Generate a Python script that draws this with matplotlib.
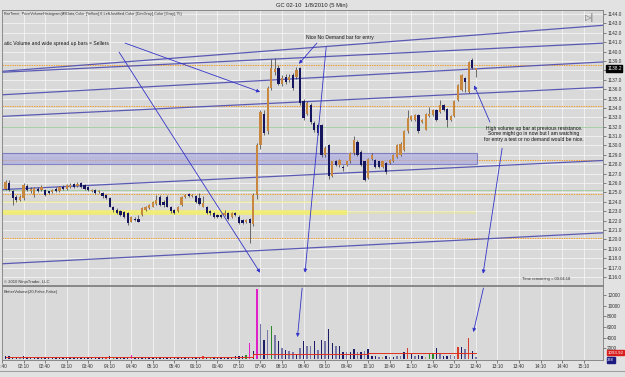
import numpy as np
import matplotlib
matplotlib.use("Agg")
import matplotlib.pyplot as plt

plt.rcParams['font.family'] = ['Liberation Sans', 'DejaVu Sans']

# 5 min bars, index 0 = 01:40
bar_idx = list(range(1, 133))

opens = [1125.4, 1126.0, 1125.1, 1124.5, 1124.2, 1124.4, 1125.7, 1125.1, 1124.7, 1125.4,
         1125.3, 1125.3, 1125.1, 1125.0, 1125.4, 1125.1, 1125.6, 1125.4, 1125.6, 1125.9,
         1125.7, 1126.0, 1125.8, 1125.6, 1125.1, 1125.3, 1125.0, 1124.9, 1124.7, 1124.4,
         1123.5, 1123.1, 1123.0, 1122.9, 1122.8, 1121.9, 1122.2, 1122.2, 1122.6, 1123.1,
         1123.3, 1123.5, 1123.8, 1124.5, 1124.0, 1124.5, 1123.5, 1123.1, 1123.0, 1123.7,
         1124.5, 1124.8, 1124.6, 1124.6, 1124.4, 1123.5, 1123.5, 1123.0, 1122.8, 1122.6,
         1122.6, 1122.6, 1122.8, 1122.4, 1122.8, 1122.4, 1122.1, 1121.9, 1122.2, 1121.6,
         1124.7, 1130.0, 1133.4, 1131.5, 1136.1, 1137.8, 1138.2, 1136.6, 1137.3, 1137.0,
         1137.5, 1137.3, 1138.2, 1134.7, 1133.4, 1134.3, 1132.4, 1132.2, 1132.2, 1129.0,
         1130.0, 1126.8, 1128.3, 1127.9, 1127.7, 1127.9, 1128.3, 1129.2, 1130.4, 1129.3,
         1128.3, 1126.5, 1128.6, 1128.5, 1128.3, 1127.7, 1128.1, 1128.1, 1128.3, 1128.8,
         1129.0, 1129.5, 1131.5, 1132.7, 1132.7, 1133.2, 1132.5, 1131.7, 1133.1, 1133.2,
         1133.8, 1133.6, 1134.3, 1133.9, 1132.7, 1133.1, 1134.8, 1135.9, 1137.2, 1135.7,
         1139.1, 1138.0]
highs = [1126.3, 1126.3, 1125.3, 1124.7, 1124.7, 1126.0, 1125.9, 1125.6, 1125.6, 1125.6,
         1125.8, 1125.4, 1125.2, 1125.4, 1125.6, 1125.7, 1125.8, 1125.9, 1126.0, 1126.0,
         1126.1, 1126.1, 1125.9, 1125.7, 1125.4, 1125.4, 1125.3, 1125.0, 1124.8, 1124.5,
         1123.6, 1123.3, 1123.1, 1123.0, 1122.9, 1122.5, 1122.4, 1122.6, 1123.4, 1123.6,
         1123.8, 1124.1, 1124.7, 1124.7, 1124.2, 1124.7, 1123.6, 1123.2, 1123.6, 1124.6,
         1124.8, 1124.9, 1124.8, 1124.7, 1124.9, 1124.6, 1123.6, 1123.1, 1122.9, 1122.7,
         1122.7, 1123.1, 1122.9, 1122.9, 1122.9, 1122.6, 1122.2, 1122.2, 1122.3, 1124.9,
         1130.3, 1133.8, 1133.8, 1136.3, 1139.2, 1139.3, 1138.6, 1137.5, 1137.6, 1137.6,
         1137.7, 1138.4, 1138.4, 1134.9, 1134.7, 1134.5, 1132.6, 1132.4, 1132.3, 1129.9,
         1130.2, 1128.4, 1128.5, 1128.6, 1127.9, 1128.4, 1129.3, 1131.0, 1130.6, 1129.5,
         1128.4, 1128.7, 1129.2, 1128.6, 1128.4, 1128.4, 1128.2, 1128.6, 1129.1, 1130.2,
         1130.4, 1131.6, 1133.8, 1133.2, 1133.4, 1133.4, 1132.8, 1133.5, 1134.1, 1133.9,
         1133.9, 1134.8, 1134.4, 1134.0, 1133.2, 1134.8, 1136.5, 1137.6, 1137.3, 1139.0,
         1139.3, 1138.3]
lows = [1125.3, 1125.1, 1123.7, 1124.0, 1124.1, 1124.2, 1125.1, 1124.9, 1124.5, 1125.0,
        1125.1, 1124.6, 1124.8, 1124.9, 1125.0, 1125.0, 1125.3, 1125.3, 1125.5, 1125.5,
        1125.6, 1125.5, 1125.3, 1125.2, 1125.0, 1124.8, 1124.9, 1124.4, 1124.3, 1123.4,
        1122.9, 1122.7, 1122.5, 1122.3, 1121.5, 1121.8, 1122.0, 1121.8, 1122.5, 1123.0,
        1123.2, 1123.4, 1123.7, 1123.6, 1123.5, 1123.4, 1122.8, 1122.7, 1122.9, 1123.6,
        1124.4, 1124.5, 1124.5, 1123.9, 1123.7, 1123.4, 1122.7, 1122.6, 1122.3, 1122.3,
        1122.3, 1122.5, 1122.1, 1122.3, 1122.5, 1121.6, 1121.6, 1121.7, 1119.6, 1121.4,
        1124.3, 1129.6, 1131.1, 1131.2, 1135.9, 1137.5, 1136.4, 1136.3, 1136.6, 1136.8,
        1135.9, 1137.1, 1134.3, 1132.7, 1133.2, 1132.3, 1131.4, 1131.1, 1128.8, 1128.8,
        1126.4, 1126.6, 1127.8, 1127.7, 1127.3, 1127.8, 1128.1, 1129.0, 1128.9, 1127.8,
        1126.2, 1126.4, 1128.5, 1127.6, 1127.6, 1127.6, 1127.0, 1128.0, 1128.2, 1128.7,
        1128.9, 1129.4, 1131.3, 1132.6, 1132.6, 1131.3, 1132.4, 1131.6, 1133.0, 1133.1,
        1132.6, 1133.5, 1133.7, 1132.0, 1132.6, 1133.0, 1134.7, 1135.8, 1135.7, 1135.6,
        1138.1, 1137.3]
closes = [1126.1, 1125.3, 1124.4, 1124.2, 1124.5, 1125.8, 1125.3, 1125.4, 1125.5, 1125.2,
          1125.6, 1124.7, 1124.9, 1125.3, 1125.1, 1125.6, 1125.4, 1125.8, 1125.8, 1125.6,
          1125.9, 1125.6, 1125.4, 1125.3, 1125.3, 1124.9, 1125.2, 1124.6, 1124.4, 1123.5,
          1123.1, 1122.8, 1122.6, 1122.4, 1121.7, 1122.4, 1122.1, 1121.9, 1123.3, 1123.5,
          1123.7, 1124.0, 1124.2, 1123.7, 1123.7, 1123.5, 1123.0, 1122.8, 1123.5, 1124.5,
          1124.7, 1124.6, 1124.7, 1124.0, 1123.8, 1123.9, 1122.8, 1122.8, 1122.4, 1122.4,
          1122.4, 1122.8, 1122.2, 1122.8, 1122.6, 1121.7, 1121.7, 1122.1, 1121.7, 1124.7,
          1130.0, 1133.6, 1131.3, 1136.1, 1138.2, 1138.1, 1136.6, 1137.2, 1136.8, 1137.3,
          1136.1, 1138.0, 1134.5, 1132.9, 1134.5, 1132.5, 1131.6, 1131.3, 1129.0, 1129.7,
          1126.8, 1128.3, 1127.9, 1128.5, 1127.6, 1128.3, 1129.2, 1130.6, 1129.0, 1127.9,
          1126.3, 1128.6, 1129.0, 1127.7, 1127.7, 1128.3, 1127.2, 1128.5, 1129.0, 1130.1,
          1130.2, 1131.5, 1132.9, 1133.1, 1133.2, 1131.5, 1132.7, 1133.4, 1133.4, 1133.8,
          1132.7, 1134.3, 1133.8, 1132.7, 1133.1, 1134.7, 1136.4, 1137.5, 1136.8, 1138.9,
          1138.2, 1138.2]

volumes = [450, 500, 400, 350, 300, 450, 350, 300, 350, 300,
           300, 350, 300, 300, 300, 300, 300, 350, 300, 300,
           300, 350, 300, 350, 300, 350, 300, 350, 400, 450,
           400, 350, 350, 400, 400, 800, 350, 350, 400, 350,
           300, 350, 350, 350, 300, 350, 300, 350, 300, 350,
           300, 300, 300, 350, 300, 450, 350, 400, 350, 350,
           350, 400, 350, 350, 450, 450, 600, 700, 2900, 1500,
           13100, 6600, 3550, 5400, 6250, 4500, 3400, 2000, 1650, 1450,
           1250, 1000, 2000, 3400, 2400, 2400, 3300, 1650, 3600, 3300,
           5600, 3000, 2400, 2400, 1300, 1300, 1300, 1800, 1300, 1300,
           1500, 1800, 500, 450, 400, 400, 600, 400, 400, 450,
           500, 1300, 2000, 900, 600, 650, 450, 400, 900, 1100,
           2100, 950, 600, 600, 650, 500, 2300, 2200, 1900, 3850,
           1500, 300]
# n navy, s slate, r red, g green, m magenta, t tan
vol_codes = ("nnnnsnnnnn" "nnnnnnnnnn" "nnnnnnnnrn" "gnnnnmnnnn" "nnnnnnnnnn"
             "nnnnnrngnn" "nnnnnnngmn" "msnsgsnsns" "snsnssnsns" "nnsnnsnnsn"
             "snnnstnsns" "snrnsnntgg" "nsnnssrnsr" "ns")
avg_x = [1, 70, 70, 102, 102, 132]
avg_v = [280, 280, 850, 850, 1050, 1050]

tick_idx = list(range(0, 163, 6))
tick_labels = ["01:40", "02:10", "02:40", "03:10", "03:40", "04:10", "04:40", "05:10",
               "05:40", "06:10", "06:40", "07:10", "07:40", "08:10", "08:40", "09:10",
               "09:40", "10:10", "10:40", "11:10", "11:40", "12:10", "12:40", "13:10",
               "13:40", "14:10", "14:40", "15:10"]

orange_levels = [1138.6, 1134.2, 1128.5, 1124.8, 1120.1]
green_levels = [1132.0, 1125.3]
# trend lines: price at left edge / right edge
chan_left = [1137.9, 1137.8, 1135.4, 1133.1, 1125.3, 1117.4]
chan_right = [1142.8, 1140.9, 1138.9, 1136.2, 1128.4, 1120.7]
zone_lo, zone_hi, zone_end = 1128.0, 1129.25, 132.2
hist_price = [1124.0, 1122.87, 1122.87]
hist_len = [88, 96, 132]
hist_alpha = [0.35, 0.7, 0.3]
# arrows: (x0, p0, x1, p1)
price_arrows = [(34.3, 1140.9, 71.9, 1135.7), (32.6, 1139.95, 71.9, 1116.45),
                (87.7, 1140.9, 82.7, 1138.7), (90.3, 1140.5, 84.4, 1116.45),
                (135.9, 1132.5, 131.5, 1136.4), (139.3, 1129.7, 134.0, 1116.35)]
vol_arrows = [(83.6, 13350, 82.3, 4100), (134.1, 13350, 131.3, 5050)]

UP, DOWN = "#c8873f", "#16165e"
VCOL = {"n": "#1c1c66", "s": "#7878a8", "r": "#d83a2e", "g": "#2a8a2a",
        "m": "#e020c8", "t": "#c8a060"}
BLUE = "#5a5ab4"
ARROW = "#3434c8"
BG = "#d9d9d9"

fig = plt.figure(figsize=(6.25, 3.77), dpi=100, facecolor="#e2e2e2")
W, H = 625.0, 377.0
ax1 = fig.add_axes([2 / W, 1 - 285 / H, 601 / W, 275 / H], facecolor=BG)
ax2 = fig.add_axes([2 / W, 1 - 360 / H, 601 / W, 74 / H], facecolor=BG, sharex=ax1)
xmax = 167.4
ax1.set_xlim(0, xmax)
ax1.set_ylim(1115.14, 1144.43)
ax2.set_ylim(-226, 13736)

for ax in (ax1, ax2):
    for s in ax.spines.values():
        s.set_color("#7a7a7a")
        s.set_linewidth(0.6)
    ax.set_xticks(tick_idx)
    ax.grid(True, axis="x", color="#f4f4f4", lw=0.6, zorder=0)
    ax.set_axisbelow(True)

price_ticks = np.arange(1116, 1145)
ax1.set_yticks(price_ticks)
# the last-price box covers the 1138.0 label
ax1.set_yticklabels(["" if v == 1138 else "%.1f" % v for v in price_ticks])
ax1.grid(True, axis="y", color="#f4f4f4", lw=0.6, zorder=0)
ax1.yaxis.tick_right()
ax1.tick_params(axis="y", labelsize=3.4, length=2, width=0.4, pad=1, colors="#333333")
ax1.tick_params(axis="x", labelbottom=False, length=0)

ax2.set_yticks([2000, 4000, 6000, 8000, 10000, 12000])
ax2.yaxis.tick_right()
ax2.tick_params(axis="y", labelsize=3.4, length=2, width=0.4, pad=1, colors="#333333")
ax2.set_xticklabels(tick_labels)
ax2.tick_params(axis="x", labelsize=3.4, length=2, width=0.4, pad=1, colors="#333333")

# overlays
for p in orange_levels:
    ax1.axhline(p, color="#f0a030", lw=0.7, ls=(0, (1.5, 1)), zorder=1)
for p in green_levels:
    ax1.axhline(p, color="#9ccc9c", lw=0.6, zorder=1)
hbars = ax1.barh(hist_price, hist_len, left=0, height=[0.25, 0.5, 0.4],
                 color="#f5f060", zorder=1)
for bar, a in zip(hbars, hist_alpha):
    bar.set_alpha(a)
ax1.fill_between([0, zone_end], zone_lo, zone_hi, color="#a8a8e0", alpha=0.65,
                 edgecolor=BLUE, lw=0.8, zorder=2)
for pl, pr in zip(chan_left, chan_right):
    ax1.plot([0, xmax], [pl, pr], color=BLUE, lw=0.9, zorder=2)

# candles
o = np.array(opens)
c = np.array(closes)
up = c >= o
ax1.vlines(bar_idx, lows, highs, color="#3a3a3a", lw=0.5, zorder=3)
ax1.bar(bar_idx, np.maximum(np.abs(c - o), 0.07), bottom=np.minimum(o, c), width=0.62,
        color=np.where(up, UP, DOWN), edgecolor="none", zorder=4)

for x0, p0, x1, p1 in price_arrows:
    ax1.annotate("", xy=(x1, p1), xytext=(x0, p0),
                 arrowprops=dict(arrowstyle="-|>", color=ARROW, lw=0.6,
                                 mutation_scale=5, shrinkA=0, shrinkB=0), zorder=5)

# volume
ax2.bar(bar_idx, volumes, width=0.4, color=[VCOL[k] for k in vol_codes], zorder=3)
ax2.plot(avg_x, avg_v, color="#e03020", lw=0.7, zorder=4)
for x0, v0, x1, v1 in vol_arrows:
    ax2.annotate("", xy=(x1, v1), xytext=(x0, v0),
                 arrowprops=dict(arrowstyle="-|>", color=ARROW, lw=0.6,
                                 mutation_scale=5, shrinkA=0, shrinkB=0), zorder=5)

# price / volume markers on the right axis
ax1.annotate("1138.2", xy=(1.0, closes[-1]), xycoords=("axes fraction", "data"),
             xytext=(3, 0), textcoords="offset points", fontsize=3.4, color="white",
             va="center", ha="left", annotation_clip=False,
             bbox=dict(boxstyle="square,pad=0.15", fc="black", ec="black"))
ax2.annotate("1093.92", xy=(1.0, 1150), xycoords=("axes fraction", "data"),
             xytext=(3, 0), textcoords="offset points", fontsize=3.2, color="white",
             va="center", ha="left", annotation_clip=False,
             bbox=dict(boxstyle="square,pad=0.15", fc="#d82020", ec="#d82020"))
ax2.annotate("338", xy=(1.0, 300), xycoords=("axes fraction", "data"),
             xytext=(3, -2), textcoords="offset points", fontsize=3.0, color="white",
             va="center", ha="left", annotation_clip=False,
             bbox=dict(boxstyle="square,pad=0.15", fc="#1c1c80", ec="#1c1c80"))


def fpos(x, y):
    return x / W, 1 - y / H


fig.text(*fpos(312, 5), "GC 02-10  1/8/2010 (5 Min)", fontsize=4.2, ha="center",
         va="center", color="#222222")
fig.text(*fpos(4, 14), "BarTimer, PriceVolumeHistogram(AllData,Color [Yellow],6,LeftJustified,"
         "Color [DimGray],Color [Gray],75)", fontsize=2.8, va="center", color="#333333")
fig.text(*fpos(4, 44), "atic Volume and wide spread up bars = Sellers", fontsize=3.6,
         va="center", color="#111111")
fig.text(*fpos(340, 37), "Nice No Demand bar for entry", fontsize=3.6, ha="center",
         va="center", color="#111111")
fig.text(*fpos(534, 134), "High volume up bar at previous resistance.\n"
         "Some might go in now but I am watching\nfor entry a test or no demand would be nice.",
         fontsize=3.6, ha="center", va="center", color="#111111", linespacing=1.1)
fig.text(*fpos(4, 282), "\u00a9 2010 NinjaTrader, LLC", fontsize=3.0, va="center",
         color="#333333")
fig.text(*fpos(570, 279), "Time remaining = 00:04:18", fontsize=3.0, ha="right",
         va="center", color="#333333")
fig.text(*fpos(4, 292), "BetterVolume(20,False,False)", fontsize=3.0, va="center",
         color="#333333")
fig.text(*fpos(590, 17), "\u25b7|", fontsize=6, ha="center", va="center",
         color="#666666", family="DejaVu Sans")
fig.add_artist(plt.Line2D([0, 1], [1 - 371 / H, 1 - 371 / H], color="#a0a0a0", lw=0.8))

fig.savefig("out.png", dpi=100, facecolor=fig.get_facecolor())
